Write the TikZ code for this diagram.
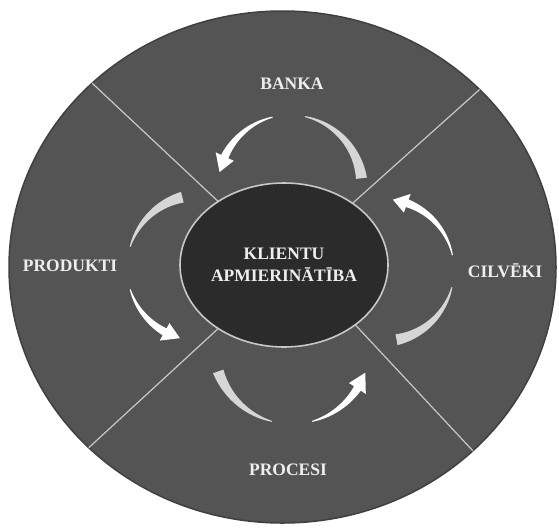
\documentclass[tikz,border=0pt]{standalone}
\usepackage{fontspec}
\setmainfont{Liberation Serif}
\usetikzlibrary{shapes.geometric}
\definecolor{disc}{HTML}{545454}
\definecolor{hub}{HTML}{2B2B2B}
\definecolor{rule}{HTML}{C8C8C8}
\definecolor{tail}{HTML}{D6D6D6}
\definecolor{ink}{HTML}{EEEEEE}

\begin{document}
\begin{tikzpicture}[x=1pt, y=-1pt,
    sectorname/.style={text=ink, font=\fontsize{17.5}{22}\selectfont\bfseries, align=center},
    divider/.style={draw=rule, line width=1.2pt}]
    \useasboundingbox (0,0) rectangle (559,528);
    \node[ellipse, draw=black!75, line width=1.5pt, fill=disc, inner sep=0pt, outer sep=0pt,
          minimum width=547pt, minimum height=512pt] (rim) at (282.5,267) {};
    \node[ellipse, draw=rule, line width=1.6pt, fill=hub, inner sep=0pt, outer sep=0pt,
          minimum width=208pt, minimum height=164pt, sectorname] (core) at (284,265)
          {KLIENTU\\APMIERINĀTĪBA};

    % sector borders
    \draw[divider] (core.136) -- (rim.136);
    \draw[divider] (core.42) -- (rim.42);
    \draw[divider] (core.-40) -- (rim.-44);
    \draw[divider] (core.224) -- (rim.223);

    \node[sectorname] (banka) at (292,84) {BANKA};
    \node[sectorname] (produkti) at (70,266) {PRODUKTI};
    \node[sectorname] (cilveki) at (505,271) {CILVĒKI};
    \node[sectorname] (procesi) at (288,470) {PROCESI};

    % white arrows: centre x / centre y / radius / thin end / thick end / tip
    \foreach \cx/\cy/\rad/\beg/\fin/\tip in {290/187/72/104/155/168, 383/270/71/12/70/82,
                                          292/346/78/285/327/340, 200/268/73/197/241/254}
        \fill[white] plot[domain=\beg:\fin, samples=30]
                ({\cx+(\rad+0.5+3.5*(\x-\beg)/(\fin-\beg))*cos(\x)}, {\cy-(\rad+0.5+3.5*(\x-\beg)/(\fin-\beg))*sin(\x)})
            -- ({\cx+(\rad+10)*cos(\fin)}, {\cy-(\rad+10)*sin(\fin)})
            -- ({\cx+\rad*cos(\tip)}, {\cy-\rad*sin(\tip)})
            -- ({\cx+(\rad-10)*cos(\fin)}, {\cy-(\rad-10)*sin(\fin)})
            -- plot[domain=\fin:\beg, samples=30]
                ({\cx+(\rad-0.5-3.5*(\x-\beg)/(\fin-\beg))*cos(\x)}, {\cy-(\rad-0.5-3.5*(\x-\beg)/(\fin-\beg))*sin(\x)})
            -- cycle;

    % grey tails
    \foreach \cx/\cy/\rad/\beg/\fin in {290/187/72/78/7, 383/270/71/-14/-79,
                                      292/346/78/255/199, 200/268/73/163/104}
        \fill[tail] plot[domain=\beg:\fin, samples=30]
                ({\cx+(\rad+0.5+5*(\x-\beg)/(\fin-\beg))*cos(\x)}, {\cy-(\rad+0.5+5*(\x-\beg)/(\fin-\beg))*sin(\x)})
            -- plot[domain=\fin:\beg, samples=30]
                ({\cx+(\rad-0.5-5*(\x-\beg)/(\fin-\beg))*cos(\x)}, {\cy-(\rad-0.5-5*(\x-\beg)/(\fin-\beg))*sin(\x)})
            -- cycle;
\end{tikzpicture}
\end{document}
